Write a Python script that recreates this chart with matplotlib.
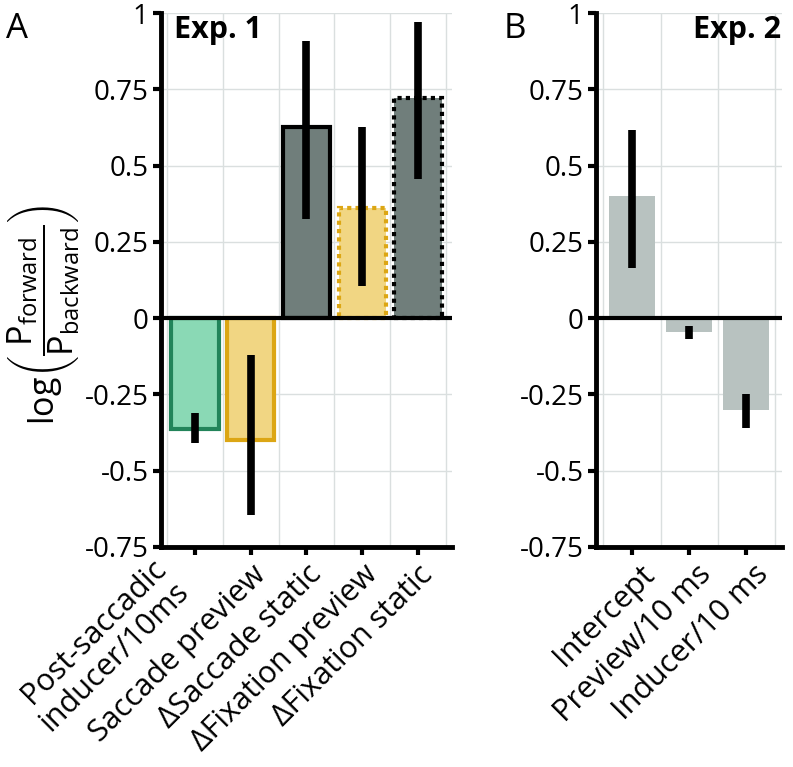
import numpy as np
import matplotlib
matplotlib.use('Agg')
import matplotlib.pyplot as plt

plt.rcParams['font.family'] = ['Open Sans', 'DejaVu Sans']
plt.rcParams['mathtext.fontset'] = 'custom'
plt.rcParams['mathtext.rm'] = 'Open Sans'
plt.rcParams['mathtext.it'] = 'Open Sans:italic'
plt.rcParams['axes.unicode_minus'] = False

# Exp. 1: estimate and interval bounds
labels_a = ['Post-saccadic\ninducer/10ms', 'Saccade preview', 'ΔSaccade static',
            'ΔFixation preview', 'ΔFixation static']
est_a = [-0.365, -0.40, 0.625, 0.362, 0.72]
lo_a = [-0.41, -0.645, 0.325, 0.105, 0.457]
hi_a = [-0.31, -0.12, 0.908, 0.625, 0.97]

# Exp. 2
labels_b = ['Intercept', 'Preview/10 ms', 'Inducer/10 ms']
est_b = [0.40, -0.045, -0.30]
lo_b = [0.165, -0.07, -0.36]
hi_b = [0.615, -0.025, -0.25]

yticks = [-0.75, -0.5, -0.25, 0, 0.25, 0.5, 0.75, 1]
ytick_labels = ['-0.75', '-0.5', '-0.25', '0', '0.25', '0.5', '0.75', '1']

fill_a = ['#8ad9b5', '#f1d683', '#707e7b', '#f1d683', '#707e7b']
edge_a = ['#22845a', '#dca614', '#000000', '#dca614', '#000000']
style_a = ['-', '-', '-', (0, (1, 1)), (0, (1, 1))]
fill_b = '#b8c2c0'

FS = 20
FSX = 22
fig = plt.figure(figsize=(7.93, 7.67), dpi=100)
ax1 = fig.add_axes([0.203, 0.287, 0.367, 0.696])
ax2 = fig.add_axes([0.7516, 0.287, 0.2346, 0.696])


def style_axes(ax, labels, xlim, shift=0):
    n = len(labels)
    ax.set_xlim(*xlim)
    ax.set_ylim(-0.75, 1)
    ax.set_yticks(yticks)
    ax.set_yticklabels(ytick_labels, fontsize=FS)
    ax.set_xticks(np.arange(n))
    ax.set_xticklabels([])
    ax.set_xticks(np.arange(n + 1) - 0.5, minor=True)
    ax.tick_params(axis='x', which='minor', length=0)
    ax.tick_params(axis='both', which='major', width=3, length=6, color='black', pad=3)
    ax.grid(True, which='major', axis='y', color='#dadfdf', lw=1, zorder=0)
    ax.grid(True, which='minor', axis='x', color='#dadfdf', lw=1, zorder=0)
    ax.set_axisbelow(True)
    for s in ['top', 'right']:
        ax.spines[s].set_visible(False)
    for s in ['left', 'bottom']:
        ax.spines[s].set_linewidth(3.5)
    ax.axhline(0, color='black', lw=3, zorder=4)
    # rotated category labels
    for i, lab in enumerate(labels):
        off = (-32, -5) if '\n' in lab else (shift, -9)
        ax.annotate(lab, xy=(i, -0.75), xycoords='data', xytext=off,
                    textcoords='offset points', fontsize=FSX, rotation=45,
                    ha='right', va='top', rotation_mode='anchor',
                    multialignment='right', linespacing=1.1,
                    annotation_clip=False)


x_a = np.arange(len(est_a))
for i in range(len(est_a)):
    ax1.bar(x_a[i], est_a[i], width=0.85, color=fill_a[i], edgecolor=edge_a[i],
            linewidth=3, linestyle=style_a[i], zorder=2)
ax1.errorbar(x_a, est_a, yerr=[np.array(est_a) - np.array(lo_a), np.array(hi_a) - np.array(est_a)],
             fmt='none', ecolor='black', elinewidth=5.5, capsize=0, zorder=5)
style_axes(ax1, labels_a, (-0.61, 4.61))

x_b = np.arange(len(est_b))
ax2.bar(x_b, est_b, width=0.8, color=fill_b, zorder=2)
ax2.errorbar(x_b, est_b, yerr=[np.array(est_b) - np.array(lo_b), np.array(hi_b) - np.array(est_b)],
             fmt='none', ecolor='black', elinewidth=5.5, capsize=0, zorder=5)
style_axes(ax2, labels_b, (-0.63, 2.63), shift=5)

ax1.text(0.045, 0.996, 'Exp. 1', transform=ax1.transAxes, fontsize=22, fontweight='bold',
         ha='left', va='top')
ax2.text(0.995, 0.996, 'Exp. 2', transform=ax2.transAxes, fontsize=22, fontweight='bold',
         ha='right', va='top')

fig.text(0.008, 0.984, 'A', fontsize=25, ha='left', va='top')
fig.text(0.635, 0.984, 'B', fontsize=25, ha='left', va='top')

fig.text(0.055, 0.59,
         r'$\mathrm{log}\left(\dfrac{\mathrm{P}_{\mathrm{forward}}}{\mathrm{P}_{\mathrm{backward}}}\right)$',
         fontsize=24.5, rotation=90, ha='center', va='center')

fig.savefig('out.png', dpi=100)
